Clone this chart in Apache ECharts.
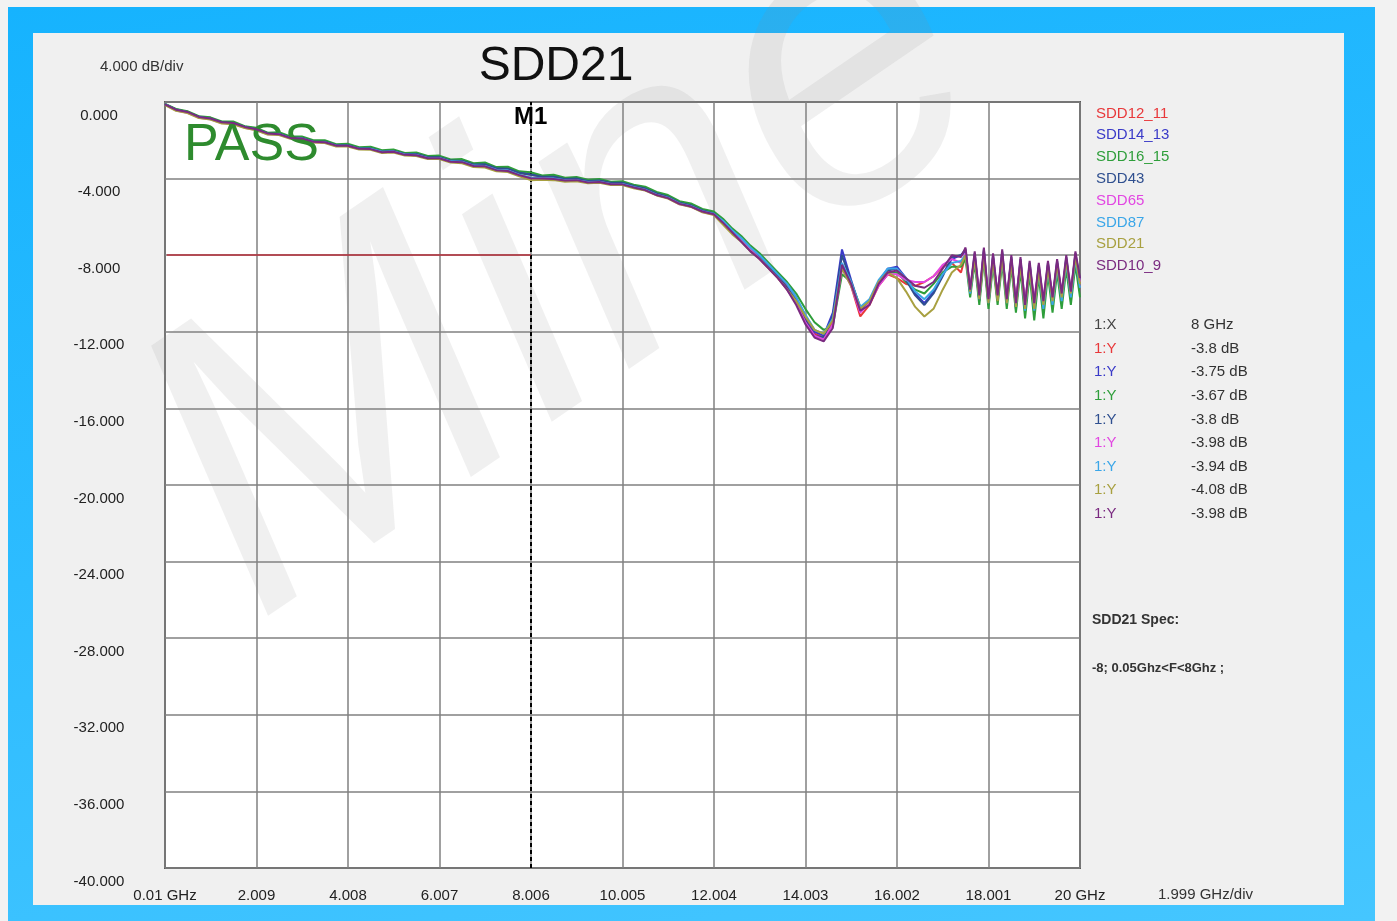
<!DOCTYPE html>
<html>
<head>
<meta charset="utf-8">
<title>SDD21</title>
<script src="https://cdn.jsdelivr.net/npm/echarts@6/dist/echarts.min.js"></script>
<style>
html, body { margin: 0; padding: 0; background: #f2f2f2; }
#frame { position: absolute; left: 8px; top: 7px; width: 1367px; height: 914px;
	background: linear-gradient(170deg, #16b3fe 0%, #2dbcff 50%, #45c6ff 100%); }
#panel { position: absolute; left: 33px; top: 33px; width: 1311px; height: 872px; background: #f0f0f0; }
#myChart { position: absolute; left: 0; top: 0; width: 1397px; height: 921px; }
</style>
</head>
<body>
<div id="frame"></div>
<div id="panel"></div>
<div id="myChart"></div>
<script>
var Sdd = {};
Sdd.font = '"Liberation Sans", Arial, sans-serif';

// frequency points (GHz)
var freq = [0.01, 0.25, 0.5, 0.75, 1, 1.25, 1.5, 1.75, 2, 2.25,
	2.5, 2.75, 3, 3.25, 3.5, 3.75, 4, 4.25, 4.5, 4.75,
	5, 5.25, 5.5, 5.75, 6, 6.25, 6.5, 6.75, 7, 7.25,
	7.5, 7.75, 8, 8.25, 8.5, 8.75, 9, 9.25, 9.5, 9.75,
	10, 10.25, 10.5, 10.75, 11, 11.25, 11.5, 11.75, 12,
	12.2, 12.4, 12.6, 12.8, 13, 13.2, 13.4, 13.6, 13.8, 14,
	14.2, 14.4, 14.6, 14.8, 15, 15.2, 15.4, 15.6, 15.8, 16,
	16.2, 16.4, 16.6, 16.8, 17, 17.2, 17.4,
	17.5, 17.6, 17.7, 17.8, 17.9, 18, 18.1, 18.2, 18.3, 18.4,
	18.5, 18.6, 18.7, 18.8, 18.9, 19, 19.1, 19.2, 19.3, 19.4,
	19.5, 19.6, 19.7, 19.8, 19.9, 20];

var seriesNames = ['SDD12_11', 'SDD14_13', 'SDD16_15', 'SDD43', 'SDD65', 'SDD87', 'SDD21', 'SDD10_9'];
var seriesColors = ['#e8383a', '#3a3ac8', '#2e9e3a', '#2f4f8f', '#e246e2', '#3aa6e8', '#a8a040', '#7a2a80'];

var sdd12_11 = [-0.12, -0.42, -0.50, -0.80, -0.82, -1.08, -1.05, -1.32, -1.38, -1.65,
	-1.62, -1.86, -1.84, -2.06, -2.04, -2.26, -2.22, -2.42, -2.38, -2.58,
	-2.52, -2.72, -2.68, -2.88, -2.84, -3.08, -3.04, -3.28, -3.22, -3.48,
	-3.44, -3.72, -3.80, -3.92, -3.86, -4.04, -3.96, -4.12, -4.06, -4.22,
	-4.18, -4.40, -4.48, -4.80, -4.92, -5.28, -5.36, -5.68, -5.78,
	-6.25, -6.75, -7.10, -7.65, -8.05, -8.55, -9.05, -9.6, -10.3, -11.3,
	-12.1, -12.3, -11.5, -8.6, -9.6, -11.2, -10.6, -9.6, -9.0, -9.2,
	-9.5, -9.6, -9.4, -9.1, -8.6, -8.4, -8.9,
	-8.0, -9.8, -8.2, -10.2, -8.0, -10.4, -8.3, -10.1, -8.1, -10.3,
	-8.4, -10.5, -8.5, -10.6, -8.7, -10.5, -8.9, -10.4, -8.8, -10.3,
	-8.6, -10.1, -8.5, -10.0, -8.3, -9.6];

var sdd14_13 = [-0.10, -0.38, -0.52, -0.76, -0.86, -1.04, -1.08, -1.28, -1.40, -1.62,
	-1.64, -1.84, -1.86, -2.04, -2.06, -2.24, -2.24, -2.40, -2.40, -2.56,
	-2.54, -2.70, -2.70, -2.86, -2.86, -3.04, -3.06, -3.24, -3.24, -3.44,
	-3.46, -3.68, -3.75, -3.88, -3.88, -4.00, -3.98, -4.10, -4.08, -4.20,
	-4.20, -4.36, -4.50, -4.76, -4.94, -5.24, -5.38, -5.64, -5.80,
	-6.2, -6.7, -7.1, -7.6, -8.0, -8.5, -9.0, -9.5, -10.2, -11.2,
	-12.0, -12.2, -11.0, -7.7, -9.3, -10.8, -10.4, -9.4, -8.7, -8.6,
	-9.2, -10.0, -10.5, -9.9, -9.0, -8.2, -8.0,
	-7.8, -10.0, -8.0, -10.4, -7.8, -10.6, -8.1, -10.4, -7.9, -10.5,
	-8.2, -10.8, -8.3, -10.9, -8.5, -10.8, -8.6, -10.7, -8.5, -10.5,
	-8.4, -10.3, -8.2, -10.1, -8.0, -9.4];

var sdd16_15 = [-0.10, -0.36, -0.48, -0.74, -0.80, -1.02, -1.02, -1.26, -1.34, -1.60,
	-1.58, -1.80, -1.80, -2.00, -2.00, -2.20, -2.18, -2.36, -2.34, -2.52,
	-2.48, -2.66, -2.64, -2.82, -2.80, -3.00, -2.98, -3.20, -3.16, -3.40,
	-3.38, -3.62, -3.67, -3.84, -3.80, -3.96, -3.92, -4.06, -4.02, -4.16,
	-4.14, -4.32, -4.42, -4.70, -4.86, -5.18, -5.30, -5.58, -5.72,
	-6.1, -6.6, -7.0, -7.5, -7.9, -8.4, -8.9, -9.4, -10.0, -10.8,
	-11.5, -11.9, -11.7, -9.0, -9.4, -10.7, -10.5, -9.5, -8.9, -8.9,
	-9.4, -9.8, -10.0, -9.5, -8.9, -8.6, -8.6,
	-8.2, -10.2, -8.4, -10.6, -8.2, -10.8, -8.5, -10.6, -8.4, -10.8,
	-8.6, -11.0, -8.8, -11.3, -9.0, -11.4, -9.1, -11.3, -9.0, -11.0,
	-8.9, -10.8, -8.7, -10.6, -8.5, -10.2];

var sdd43 = [-0.14, -0.40, -0.54, -0.78, -0.86, -1.06, -1.10, -1.30, -1.42, -1.64,
	-1.66, -1.86, -1.88, -2.06, -2.08, -2.26, -2.26, -2.42, -2.42, -2.58,
	-2.56, -2.72, -2.72, -2.88, -2.88, -3.06, -3.08, -3.26, -3.26, -3.46,
	-3.48, -3.70, -3.80, -3.90, -3.90, -4.02, -4.00, -4.12, -4.10, -4.22,
	-4.22, -4.38, -4.52, -4.78, -4.96, -5.26, -5.40, -5.66, -5.82,
	-6.3, -6.8, -7.2, -7.7, -8.1, -8.6, -9.1, -9.7, -10.4, -11.4,
	-12.2, -12.3, -11.2, -8.0, -9.4, -10.9, -10.5, -9.5, -8.8, -8.7,
	-9.3, -10.1, -10.6, -10.0, -9.1, -8.1, -8.0,
	-7.7, -9.9, -7.9, -10.3, -7.7, -10.5, -8.0, -10.3, -7.8, -10.4,
	-8.1, -10.7, -8.2, -10.8, -8.4, -10.7, -8.5, -10.6, -8.4, -10.4,
	-8.3, -10.2, -8.1, -10.0, -7.9, -9.3];

var sdd65 = [-0.14, -0.44, -0.56, -0.82, -0.90, -1.10, -1.14, -1.34, -1.46, -1.68,
	-1.70, -1.90, -1.92, -2.10, -2.12, -2.30, -2.30, -2.46, -2.46, -2.62,
	-2.60, -2.76, -2.78, -2.94, -2.94, -3.12, -3.14, -3.34, -3.36, -3.56,
	-3.60, -3.82, -3.98, -4.00, -4.02, -4.10, -4.10, -4.20, -4.18, -4.30,
	-4.30, -4.46, -4.60, -4.86, -5.02, -5.34, -5.46, -5.74, -5.88,
	-6.3, -6.8, -7.2, -7.7, -8.2, -8.7, -9.2, -9.8, -10.5, -11.5,
	-12.2, -12.4, -11.6, -8.7, -9.6, -11.0, -10.5, -9.6, -9.0, -9.0,
	-9.3, -9.4, -9.4, -9.1, -8.5, -8.2, -8.4,
	-7.9, -9.7, -8.1, -10.0, -7.9, -10.2, -8.2, -10.0, -8.0, -10.2,
	-8.3, -10.3, -8.4, -10.4, -8.6, -10.3, -8.7, -10.2, -8.6, -10.1,
	-8.5, -9.9, -8.3, -9.8, -8.1, -9.4];

var sdd87 = [-0.12, -0.42, -0.54, -0.80, -0.88, -1.08, -1.12, -1.32, -1.44, -1.66,
	-1.68, -1.88, -1.90, -2.08, -2.10, -2.28, -2.28, -2.44, -2.44, -2.60,
	-2.58, -2.74, -2.76, -2.92, -2.92, -3.10, -3.12, -3.32, -3.34, -3.54,
	-3.58, -3.80, -3.94, -3.98, -4.00, -4.08, -4.08, -4.18, -4.16, -4.28,
	-4.28, -4.44, -4.58, -4.84, -5.00, -5.30, -5.44, -5.70, -5.84,
	-6.2, -6.7, -7.1, -7.6, -8.0, -8.5, -9.0, -9.5, -10.2, -11.1,
	-11.9, -12.1, -11.3, -8.4, -9.4, -10.7, -10.3, -9.3, -8.7, -8.7,
	-9.2, -9.9, -10.3, -9.8, -9.0, -8.4, -8.3,
	-8.0, -10.0, -8.2, -10.3, -8.0, -10.5, -8.3, -10.3, -8.1, -10.5,
	-8.3, -10.7, -8.5, -10.9, -8.7, -10.9, -8.8, -10.8, -8.7, -10.6,
	-8.6, -10.4, -8.4, -10.2, -8.2, -9.7];

var sdd21 = [-0.16, -0.46, -0.58, -0.84, -0.92, -1.12, -1.16, -1.36, -1.48, -1.70,
	-1.72, -1.92, -1.94, -2.12, -2.14, -2.32, -2.32, -2.48, -2.50, -2.66,
	-2.64, -2.80, -2.82, -2.98, -2.98, -3.16, -3.20, -3.40, -3.42, -3.62,
	-3.66, -3.88, -4.08, -4.06, -4.08, -4.16, -4.14, -4.24, -4.22, -4.34,
	-4.34, -4.50, -4.62, -4.88, -5.04, -5.34, -5.48, -5.76, -5.90,
	-6.4, -6.9, -7.3, -7.8, -8.2, -8.7, -9.2, -9.8, -10.4, -11.2,
	-11.9, -12.1, -11.4, -8.7, -9.6, -10.8, -10.4, -9.4, -8.9, -9.2,
	-9.9, -10.7, -11.2, -10.8, -9.8, -8.9, -8.5,
	-8.0, -9.9, -8.2, -10.3, -8.1, -10.5, -8.3, -10.4, -8.1, -10.5,
	-8.4, -10.7, -8.5, -10.8, -8.7, -10.8, -8.8, -10.6, -8.7, -10.4,
	-8.5, -10.2, -8.3, -10.0, -8.1, -9.5];

var sdd10_9 = [-0.12, -0.40, -0.52, -0.78, -0.86, -1.06, -1.10, -1.30, -1.42, -1.64,
	-1.68, -1.88, -1.90, -2.08, -2.10, -2.28, -2.28, -2.44, -2.46, -2.62,
	-2.60, -2.76, -2.78, -2.94, -2.94, -3.12, -3.14, -3.34, -3.36, -3.56,
	-3.60, -3.82, -3.98, -4.00, -4.02, -4.10, -4.08, -4.20, -4.18, -4.30,
	-4.30, -4.46, -4.60, -4.86, -5.02, -5.32, -5.46, -5.72, -5.86,
	-6.3, -6.8, -7.3, -7.8, -8.2, -8.7, -9.2, -9.8, -10.6, -11.6,
	-12.3, -12.5, -11.8, -8.5, -9.5, -10.9, -10.6, -9.5, -8.9, -8.8,
	-9.2, -9.6, -9.7, -9.4, -8.7, -8.0, -8.1,
	-7.6, -9.8, -7.8, -10.1, -7.6, -10.3, -7.9, -10.1, -7.7, -10.3,
	-8.0, -10.5, -8.1, -10.6, -8.3, -10.5, -8.4, -10.4, -8.3, -10.2,
	-8.2, -10.0, -8.0, -9.9, -7.8, -9.2];

var seriesValues = [sdd12_11, sdd14_13, sdd16_15, sdd43, sdd65, sdd87, sdd21, sdd10_9];

var xTickLabels = ['0.01 GHz', '2.009', '4.008', '6.007', '8.006', '10.005', '12.004', '14.003', '16.002', '18.001', '20 GHz'];
var yTickLabels = ['0.000', '-4.000', '-8.000', '-12.000', '-16.000', '-20.000', '-24.000', '-28.000', '-32.000', '-36.000', '-40.000'];

var markerFreq = 8;
var markerLabels = ['1:X', '1:Y', '1:Y', '1:Y', '1:Y', '1:Y', '1:Y', '1:Y', '1:Y'];
var markerValues = ['8 GHz', '-3.8 dB', '-3.75 dB', '-3.67 dB', '-3.8 dB', '-3.98 dB', '-3.94 dB', '-4.08 dB', '-3.98 dB'];

var specLimit = -8;
var specStart = 0.05;
var specStop = 8;

Sdd.toPairs = function(values) {
	var out = [];
	for (var i = 0; i < freq.length; i++) {
		out.push([freq[i], values[i]]);
	}
	return out;
};

Sdd.text = function(x, y, text, font, color, align) {
	return {
		type : 'text',
		x : x,
		y : y,
		z : 10,
		style : {
			text : text,
			font : font,
			fill : color,
			align : align || 'left',
			verticalAlign : 'middle'
		}
	};
};

Sdd.initChart = function() {
	var myChart = echarts.init(document.getElementById('myChart'));

	var series = [];
	var legendData = [];
	for (var i = 0; i < seriesNames.length; i++) {
		legendData.push({
			name : seriesNames[i],
			textStyle : { color : seriesColors[i] }
		});
		series.push({
			name : seriesNames[i],
			type : 'line',
			data : Sdd.toPairs(seriesValues[i]),
			showSymbol : false,
			symbol : 'none',
			color : seriesColors[i],
			lineStyle : { width : 2, color : seriesColors[i] },
			z : 3 + i
		});
	}
	// marker M1 and spec limit go on the last series
	var last = series[series.length - 1];
	last.markLine = {
		silent : true,
		symbol : [ 'none', 'none' ],
		label : { show : false },
		data : [
			{ xAxis : markerFreq, lineStyle : { color : '#000', type : [4, 3], width : 2 } },
			[ { coord : [ specStart, specLimit ], lineStyle : { color : '#b8303c', type : 'solid', width : 1.5 } },
			  { coord : [ specStop, specLimit ] } ]
		]
	};
	last.markPoint = {
		silent : true,
		data : [ {
			coord : [ markerFreq, 0 ],
			symbol : 'rect',
			symbolSize : 1,
			itemStyle : { color : 'rgba(0,0,0,0)' },
			label : {
				show : true,
				formatter : 'M1',
				position : 'bottom',
				distance : 3,
				fontSize : 24,
				fontWeight : 'bold',
				fontFamily : Sdd.font,
				color : '#000'
			}
		} ]
	};

	var graphics = [];
	// watermark
	graphics.push({
		type : 'text',
		x : 310,
		y : 700,
		rotation : 0.6,
		z : 1,
		silent : true,
		style : {
			text : 'Mine',
			font : 'italic 420px ' + Sdd.font,
			fill : 'rgba(140,140,140,0.13)',
			align : 'left',
			verticalAlign : 'bottom'
		}
	});
	graphics.push(Sdd.text(556, 67, 'SDD21', '48px ' + Sdd.font, '#111', 'center'));
	graphics.push(Sdd.text(100, 67, '4.000 dB/div', '15px ' + Sdd.font, '#333', 'left'));
	graphics.push(Sdd.text(184, 146, 'PASS', '52px ' + Sdd.font, '#2e8b2e', 'left'));
	graphics.push(Sdd.text(1158, 895, '1.999 GHz/div', '15px ' + Sdd.font, '#333', 'left'));
	for (var k = 0; k < markerLabels.length; k++) {
		var y = 325 + k * 23.6;
		var c = k === 0 ? '#444' : seriesColors[k - 1];
		graphics.push(Sdd.text(1094, y, markerLabels[k], '15px ' + Sdd.font, c, 'left'));
		graphics.push(Sdd.text(1191, y, markerValues[k], '15px ' + Sdd.font, '#333', 'left'));
	}
	graphics.push(Sdd.text(1092, 620, 'SDD21 Spec:', 'bold 14px ' + Sdd.font, '#333', 'left'));
	graphics.push(Sdd.text(1092, 668, specLimit + '; ' + specStart + 'Ghz<F<' + specStop + 'Ghz ;', 'bold 13px ' + Sdd.font, '#333', 'left'));

	var option = {
		animation : false,
		backgroundColor : 'transparent',
		textStyle : { fontFamily : Sdd.font },
		grid : {
			left : 165,
			top : 102,
			width : 915,
			height : 766,
			show : true,
			backgroundColor : '#ffffff',
			borderColor : '#5a5a5a',
			borderWidth : 2
		},
		legend : {
			orient : 'vertical',
			left : 1086,
			top : 101,
			icon : 'none',
			itemWidth : 0,
			itemHeight : 15,
			itemGap : 6.8,
			selectedMode : false,
			textStyle : { fontSize : 15, fontFamily : Sdd.font, lineHeight : 15 },
			data : legendData
		},
		xAxis : {
			type : 'value',
			min : 0.01,
			max : 20,
			interval : 1.999,
			axisLine : { show : false },
			axisTick : { show : false },
			splitLine : { show : true, lineStyle : { color : '#808080', width : 1.5 } },
			axisLabel : {
				margin : 20,
				fontSize : 15,
				color : '#222',
				fontFamily : Sdd.font,
				showMinLabel : true,
				showMaxLabel : true,
				formatter : function(v) {
					return xTickLabels[Math.round((v - 0.01) / 1.999)];
				}
			}
		},
		yAxis : {
			type : 'value',
			min : -40,
			max : 0,
			interval : 4,
			axisLine : { show : false },
			axisTick : { show : false },
			splitLine : { show : true, lineStyle : { color : '#808080', width : 1.5 } },
			axisLabel : {
				margin : 66,
				align : 'center',
				verticalAlign : 'top',
				padding : [ 6, 0, 0, 0 ],
				fontSize : 15,
				color : '#222',
				fontFamily : Sdd.font,
				showMinLabel : true,
				showMaxLabel : true,
				formatter : function(v) {
					return yTickLabels[Math.round(-v / 4)];
				}
			}
		},
		graphic : graphics,
		series : series
	};
	myChart.setOption(option);
};

Sdd.initChart();
</script>
</body>
</html>
